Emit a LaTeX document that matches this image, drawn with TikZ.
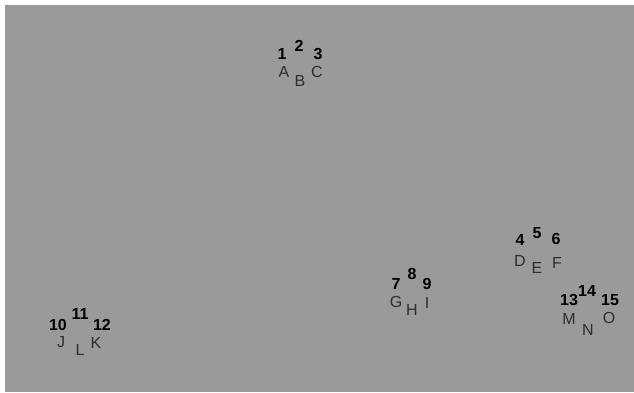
\documentclass[tikz,border=0pt]{standalone}
\usepackage{fontspec}
\setmainfont{Liberation Sans}
\usetikzlibrary{positioning}
\definecolor{bggray}{HTML}{9A9A9A}
\definecolor{lettergray}{HTML}{2E2E2E}
\begin{document}
\begin{tikzpicture}[
x=1pt,y=-1pt,
every node/.style={inner sep=0pt,font=\fontsize{16}{16}\selectfont},
num/.style={font=\fontsize{16}{16}\selectfont\bfseries,text=black},
letter/.style={text=lettergray}]
\useasboundingbox (0,0) rectangle (634,392);
\fill[bggray] (5,5) rectangle (634,392);
% group one
\node (n1) [num] at (282,54) {1};
\node (n2) [num] at (299,46) {2};
\node (n3) [num] at (318,54) {3};
\node (la) [letter] at (284,72) {A};
\node (lb) [letter] at (300,81) {B};
\node (lc) [letter] at (317,72) {C};
% group two
\node (n4) [num] at (520,240) {4};
\node (n5) [num] at (537,233) {5};
\node (n6) [num] at (556,239) {6};
\node (ld) [letter] at (520,261) {D};
\node (le) [letter] at (537,268) {E};
\node (lf) [letter] at (557,263) {F};
% group three
\node (n7) [num] at (396,284) {7};
\node (n8) [num] at (412,274) {8};
\node (n9) [num] at (427,284) {9};
\node (lg) [letter] at (396,302) {G};
\node (lh) [letter] at (412,310) {H};
\node (li) [letter] at (427,303) {I};
% group four
\node (n10) [num] at (58,325) {10};
\node (n11) [num] at (80,314) {11};
\node (n12) [num] at (102,325) {12};
\node (lj) [letter] at (61,342) {J};
\node (ll) [letter] at (80,350) {L};
\node (lk) [letter] at (96,343) {K};
% group five
\node (n13) [num] at (569,300) {13};
\node (n14) [num] at (587,291) {14};
\node (n15) [num] at (610,300) {15};
\node (lm) [letter] at (569,319) {M};
\node (lnn) [letter] at (588,330) {N};
\node (lo) [letter] at (609,318) {O};
\end{tikzpicture}
\end{document}
